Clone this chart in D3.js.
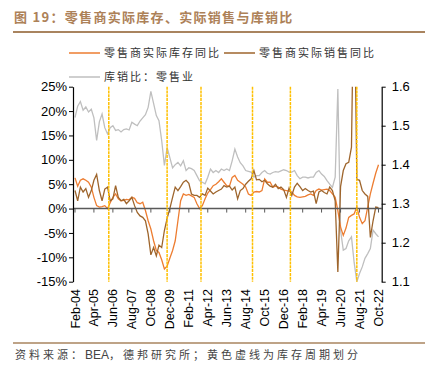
<!DOCTYPE html>
<html>
<head>
<meta charset="utf-8">
<title>零售商实际库存、实际销售与库销比</title>
<script src="https://d3js.org/d3.v7.min.js"></script>
<style>
  body { margin: 0; background: #fff; }
  svg text { font-family: "Liberation Sans", Arial, sans-serif; }
  .cjk { font-family: "Noto Sans CJK SC", sans-serif; }
</style>
</head>
<body>
<svg id="chart" width="435" height="375"></svg>
<script>
// bimonthly readings, Feb-04 .. Oct-22 (113 points)
const inventoryYoY = [6.3,4.6,5.8,6.1,5.8,5.4,4.4,2.3,0.6,0.3,0.4,0.6,0.0,1.2,2.3,3.0,2.0,1.6,1.7,1.9,
  1.8,2.3,2.1,1.2,1.0,1.3,-0.4,-2.5,-4.2,-6.6,-8.6,-9.0,-10.5,-12.4,-11.8,-10.2,-8.6,-6.6,-2.5,1.6,
  3.0,2.7,2.9,2.6,2.3,1.0,0.0,0.6,2.0,3.2,3.9,4.7,5.0,5.5,6.1,5.4,4.7,4.6,6.4,6.8,
  5.8,5.4,5.0,4.4,3.0,2.7,3.4,3.5,3.4,3.7,6.1,5.4,5.4,4.4,4.6,4.4,4.0,3.8,3.7,3.6,
  3.4,2.7,2.4,2.3,2.4,2.5,2.8,3.0,2.7,3.7,4.0,3.8,3.9,4.0,3.7,3.0,2.3,-0.4,-3.8,-5.5,
  -4.0,-1.8,-1.4,-1.1,0.3,-1.8,-3.1,-2.5,0.3,3.0,5.2,7.3,9.0];
const salesYoY = [3.7,1.6,4.4,3.4,4.1,2.3,3.7,5.8,7.0,3.7,1.6,4.0,4.4,1.6,2.0,4.7,2.3,1.6,1.9,1.0,
  1.6,2.3,0.6,-0.8,-1.5,-1.8,-2.5,-5.2,-9.5,-8.0,-9.7,-7.5,-8.0,-4.5,-2.0,0.0,2.3,4.4,3.7,4.5,
  5.4,5.8,5.2,3.0,2.7,2.7,2.3,3.0,2.7,4.2,3.6,3.0,3.4,3.7,4.0,4.7,4.4,4.6,3.8,4.4,
  2.0,3.7,4.1,5.0,5.6,6.1,7.8,5.9,6.0,5.5,5.8,5.1,4.6,4.4,5.0,4.1,4.4,3.9,2.3,4.2,
  2.7,4.4,5.2,4.5,3.7,4.1,3.7,3.4,3.6,1.0,3.4,3.7,3.3,3.0,4.4,3.7,1.6,-13.0,4.5,7.8,
  9.2,9.5,12.6,50,6.0,5.8,3.7,3.0,2.5,-5.9,-2.5,0.3,0.2];
const invSalesRatio = [1.521,1.550,1.562,1.540,1.548,1.535,1.542,1.520,1.462,1.510,1.530,1.495,1.479,1.495,1.500,1.488,1.490,1.484,1.490,1.492,
  1.489,1.509,1.504,1.500,1.512,1.520,1.528,1.547,1.588,1.557,1.526,1.513,1.462,1.398,1.444,1.418,1.392,1.400,1.406,1.397,
  1.410,1.385,1.392,1.390,1.385,1.372,1.359,1.355,1.351,1.368,1.389,1.380,1.385,1.380,1.389,1.385,1.389,1.385,1.410,1.440,
  1.420,1.405,1.397,1.385,1.383,1.381,1.368,1.372,1.372,1.380,1.385,1.378,1.376,1.380,1.382,1.381,1.384,1.387,1.385,1.381,
  1.381,1.385,1.372,1.364,1.368,1.368,1.366,1.368,1.368,1.380,1.385,1.376,1.370,1.359,1.350,1.342,1.368,1.594,1.232,1.181,
  1.185,1.205,1.215,1.150,1.100,1.121,1.138,1.160,1.172,1.185,1.232,1.223,1.215];

const xLabels = ["Feb-04","Apr-05","Jun-06","Aug-07","Oct-08","Dec-09","Feb-11","Apr-12","Jun-13",
  "Aug-14","Oct-15","Dec-16","Feb-18","Apr-19","Jun-20","Aug-21","Oct-22"];
const leftTicks = [25,20,15,10,5,0,-5,-10,-15];
const rightTicks = [1.6,1.5,1.4,1.3,1.2,1.1];
const cycleMarks = ["Mar-06","Oct-09","Nov-11","Jan-15","May-17","Jun-21"];

const parseM = d3.timeParse("%b-%y");
const dates = d3.timeMonth.range(new Date(2004,1,1), new Date(2022,10,1), 2);

const svg = d3.select("#chart");
const plotTop = 86.7, plotBottom = 281.7, plotLeft = 73, plotRight = 381.7;

const x = d3.scaleTime().domain([parseM("Feb-04"), parseM("Oct-22")]).range([75, 378.5]);
const yL = d3.scaleLinear().domain([-15,25]).range([plotBottom, plotTop]);
const yR = d3.scaleLinear().domain([1.1,1.6]).range([plotBottom, plotTop]);

// title
svg.append("text").attr("class","cjk").attr("x",14).attr("y",22)
  .attr("font-size",13).attr("font-weight","bold").attr("letter-spacing",1.3)
  .attr("fill","#AD8158").text("图 19：零售商实际库存、实际销售与库销比");
svg.append("line").attr("x1",13).attr("x2",425).attr("y1",32).attr("y2",32)
  .attr("stroke","#A9845F").attr("stroke-width",2);

// legend
const legend = [
  {name:"零售商实际库存同比", color:"#ED7D31", x:69, y:53},
  {name:"零售商实际销售同比", color:"#9E652C", x:224, y:53},
  {name:"库销比：零售业", color:"#BFBFBF", x:69, y:77}
];
legend.forEach(l => {
  svg.append("line").attr("x1",l.x).attr("x2",l.x+31).attr("y1",l.y).attr("y2",l.y)
    .attr("stroke",l.color).attr("stroke-width",1.5);
  svg.append("text").attr("class","cjk").attr("x",l.x+35).attr("y",l.y+4)
    .attr("font-size",11).attr("letter-spacing",2).attr("fill","#333").text(l.name);
});

// clip
svg.append("clipPath").attr("id","plot").append("rect")
  .attr("x",plotLeft).attr("y",plotTop).attr("width",plotRight-plotLeft).attr("height",plotBottom-plotTop);

const g = svg.append("g").attr("clip-path","url(#plot)");
const lineL = d3.line().x((d,i)=>x(dates[i])).y(d=>yL(d));
const lineR = d3.line().x((d,i)=>x(dates[i])).y(d=>yR(d));

g.append("path").datum(invSalesRatio).attr("d",lineR)
  .attr("fill","none").attr("stroke","#BFBFBF").attr("stroke-width",1.3);
g.append("path").datum(inventoryYoY).attr("d",lineL)
  .attr("fill","none").attr("stroke","#ED7D31").attr("stroke-width",1.3);
g.append("path").datum(salesYoY).attr("d",lineL)
  .attr("fill","none").attr("stroke","#9E652C").attr("stroke-width",1.3);

// zero line / x axis
svg.append("line").attr("x1",plotLeft).attr("x2",plotRight).attr("y1",yL(0)).attr("y2",yL(0))
  .attr("stroke","#595959").attr("stroke-width",1.5);
svg.selectAll(".xtick").data(xLabels).enter().append("line")
  .attr("x1",d=>x(parseM(d))).attr("x2",d=>x(parseM(d)))
  .attr("y1",yL(0)).attr("y2",yL(0)+4).attr("stroke","#595959");

// inventory cycle marks
svg.selectAll(".cycle").data(cycleMarks).enter().append("line")
  .attr("x1",d=>x(parseM(d))).attr("x2",d=>x(parseM(d)))
  .attr("y1",plotTop).attr("y2",plotBottom)
  .attr("stroke","#FFC000").attr("stroke-width",1.5).attr("stroke-dasharray","3,0.8");

// axes
const axL = svg.append("g").attr("transform",`translate(${plotLeft},0)`)
  .call(d3.axisLeft(yL).tickValues(leftTicks).tickFormat(d=>d+"%").tickSize(4).tickSizeOuter(0));
const axR = svg.append("g").attr("transform",`translate(${plotRight},0)`)
  .call(d3.axisRight(yR).tickValues(rightTicks).tickFormat(d3.format(".1f")).tickSize(4).tickSizeOuter(0));
[axL, axR].forEach(a => {
  a.select(".domain").attr("stroke","#000").attr("stroke-width",1.2);
  a.selectAll(".tick line").attr("stroke","#000");
  a.selectAll("text").attr("font-size",13).attr("fill","#000")
    .attr("font-family","Liberation Sans, Arial, sans-serif");
});
axL.selectAll("text").attr("x",-6);
axR.selectAll("text").attr("x",10);

// x labels
svg.selectAll(".xlab").data(xLabels).enter().append("text")
  .attr("transform",d=>`translate(${x(parseM(d))+4.5},289) rotate(-90)`)
  .attr("text-anchor","end").attr("font-size",12.5).attr("fill","#000").text(d=>d);

// source
svg.append("line").attr("x1",13).attr("x2",425).attr("y1",343).attr("y2",343)
  .attr("stroke","#A9845F").attr("stroke-width",1.5);
const src = svg.append("text").attr("class","cjk").attr("x",15).attr("y",359)
  .attr("font-size",11).attr("fill","#444");
src.append("tspan").attr("letter-spacing",3).text("资料来源：");
src.append("tspan").attr("font-family","Liberation Sans, Arial, sans-serif").attr("font-size",12).text("BEA");
src.append("tspan").attr("letter-spacing",3).text("，德邦研究所；黄色虚线为库存周期划分");
</script>
</body>
</html>
